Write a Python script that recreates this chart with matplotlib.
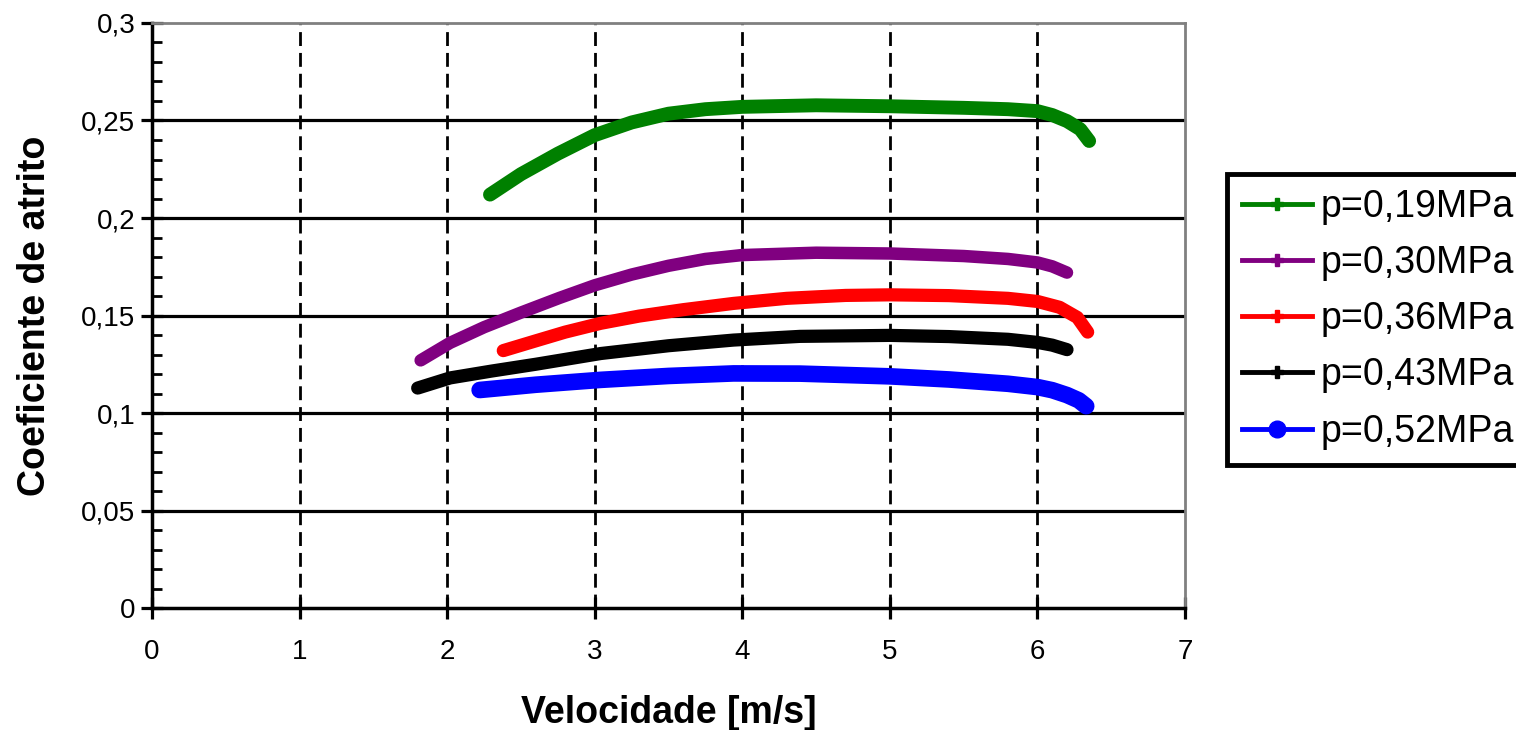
import matplotlib
matplotlib.use("Agg")
import matplotlib.pyplot as plt
from matplotlib.lines import Line2D
from matplotlib.ticker import MultipleLocator, FuncFormatter

plt.rcParams['font.family'] = ['Liberation Sans', 'DejaVu Sans']

# data
v_019 = [2.29, 2.5, 2.75, 3.0, 3.25, 3.5, 3.75, 4.0, 4.5, 5.0, 5.5, 5.8, 6.0, 6.1, 6.2, 6.29, 6.35]
mu_019 = [0.212, 0.2225, 0.233, 0.2425, 0.249, 0.2535, 0.2558, 0.257, 0.2578, 0.2573, 0.2565,
          0.2558, 0.2548, 0.2528, 0.2497, 0.2455, 0.2395]

v_030 = [1.82, 2.02, 2.25, 2.5, 2.76, 3.0, 3.25, 3.5, 3.75, 4.0, 4.5, 5.0, 5.5, 5.8, 6.0, 6.1, 6.2]
mu_030 = [0.127, 0.136, 0.144, 0.1515, 0.159, 0.1655, 0.171, 0.1755, 0.179, 0.181, 0.1822,
          0.1818, 0.1805, 0.179, 0.1772, 0.1752, 0.172]

v_036 = [2.38, 2.6, 2.8, 3.04, 3.3, 3.6, 3.94, 4.3, 4.7, 5.0, 5.4, 5.8, 6.0, 6.15, 6.27, 6.34]
mu_036 = [0.132, 0.137, 0.1415, 0.146, 0.1497, 0.153, 0.1562, 0.1588, 0.1603, 0.1606, 0.1602,
          0.1588, 0.1572, 0.1542, 0.149, 0.1415]

v_043 = [1.80, 2.02, 2.3, 2.6, 3.04, 3.5, 3.94, 4.39, 5.0, 5.4, 5.8, 6.0, 6.1, 6.2]
mu_043 = [0.1128, 0.118, 0.1215, 0.125, 0.1305, 0.1345, 0.1374, 0.1393, 0.1398, 0.1392, 0.1378,
          0.1362, 0.1348, 0.1325]

v_052 = [2.22, 2.6, 3.04, 3.5, 3.94, 4.39, 5.0, 5.4, 5.8, 6.0, 6.1, 6.2, 6.28, 6.33]
mu_052 = [0.1118, 0.1145, 0.117, 0.119, 0.1203, 0.1202, 0.1188, 0.1172, 0.115, 0.1133, 0.1117,
          0.1092, 0.1065, 0.1035]

labels = ['p=0,19MPa', 'p=0,30MPa', 'p=0,36MPa', 'p=0,43MPa', 'p=0,52MPa']
colors = ['#008000', '#800080', '#ff0000', '#000000', '#0000ff']
widths = [10, 9, 9.5, 9.5, 12]
series = [(v_019, mu_019), (v_030, mu_030), (v_036, mu_036), (v_043, mu_043), (v_052, mu_052)]

fig = plt.figure(figsize=(15.16, 7.30), dpi=100)
ax = fig.add_axes([0.1003, 0.1671, 0.6814, 0.8014])

for (v, mu), c, w in zip(series, colors, widths):
    ax.plot(v, mu, color=c, lw=w, solid_capstyle='round', solid_joinstyle='round', zorder=3)

ax.set_xlim(0, 7)
ax.set_ylim(0, 0.3)
ax.xaxis.set_major_locator(MultipleLocator(1))
ax.yaxis.set_major_locator(MultipleLocator(0.05))
ax.yaxis.set_minor_locator(MultipleLocator(0.01))

def comma(val, pos):
    s = ('%.2f' % val).rstrip('0').rstrip('.')
    return s.replace('.', ',')

ax.yaxis.set_major_formatter(FuncFormatter(comma))

for y in [0.05, 0.1, 0.15, 0.2, 0.25]:
    ax.axhline(y, color='black', lw=2.3, zorder=1)
for x in range(1, 7):
    ax.axvline(x, color='black', lw=2.0, ls=(0, (5, 2.5)), zorder=1)

ax.tick_params(axis='both', which='major', direction='inout', length=16, width=2.3,
               labelsize=20, colors='black')
ax.tick_params(axis='y', which='minor', direction='in', length=7, width=2)
ax.tick_params(axis='y', which='major', pad=4)
ax.tick_params(axis='x', which='major', pad=14)

for side in ['left', 'bottom']:
    ax.spines[side].set_linewidth(2.5)
    ax.spines[side].set_color('black')
for side in ['top', 'right']:
    ax.spines[side].set_linewidth(2)
    ax.spines[side].set_color('#808080')

ax.set_xlabel('Velocidade [m/s]', fontsize=27, fontweight='bold', labelpad=22)
ax.set_ylabel('Coeficiente de atrito', fontsize=27, fontweight='bold', labelpad=20)

markers = ['P', 'P', 'P', 'P', 'o']
msizes = [8, 8, 8, 8, 12]
handles = [Line2D([0], [0], color=c, lw=3.5, marker=m, markersize=s)
           for c, m, s in zip(colors, markers, msizes)]
leg = fig.legend(handles, labels, loc='upper left', bbox_to_anchor=(0.8095, 0.762),
                 fontsize=27, frameon=True, fancybox=False, framealpha=1,
                 handlelength=1.85, handletextpad=0.25, labelspacing=0.54,
                 borderpad=0.4, borderaxespad=0)
leg.get_frame().set_edgecolor('black')
leg.get_frame().set_linewidth(3.5)

fig.savefig('out.png', dpi=100)
